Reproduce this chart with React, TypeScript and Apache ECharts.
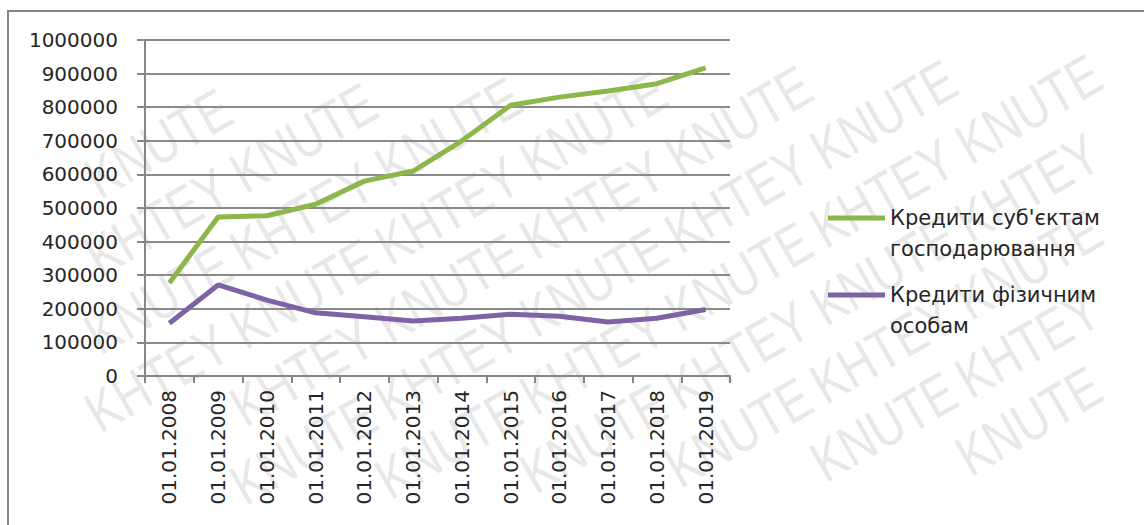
import React, { useEffect, useRef } from "react";
import * as echarts from "echarts";

const categories = [
  "01.01.2008", "01.01.2009", "01.01.2010", "01.01.2011", "01.01.2012", "01.01.2013",
  "01.01.2014", "01.01.2015", "01.01.2016", "01.01.2017", "01.01.2018", "01.01.2019",
];
const businessLoans = [277000, 473000, 477000, 511000, 580000, 610000, 700000, 806000, 830000, 848000, 870000, 917000];
const householdLoans = [157000, 271000, 226000, 188000, 176000, 164000, 172000, 184000, 178000, 161000, 172000, 198000];
const seriesNames = ["Кредити суб'єктам господарювання", "Кредити фізичним особам"];
const legendLabels = ["Кредити суб'єктам\nгосподарювання", "Кредити фізичним\nособам"];
const watermarkWords = ["KHTEY", "KNUTE"];

const FONT = "DejaVu Sans";
const W = 1144;
const H = 525;

function buildWatermark() {
  const out: any[] = [];
  const angle = (30 * Math.PI) / 180;
  const c = Math.cos(angle);
  const s = Math.sin(angle);
  const fs = 58;
  const sx = 0.8;
  const wlen = 3.4 * fs * sx;
  const step = 3.33 * fs * sx + 0.28 * fs * sx;
  const half = fs * 0.6;
  for (let r = 0; r < 24; r++) {
    const x0 = -200;
    const y0 = -40 + r * 78;
    for (let k = 0; k < 12; k++) {
      const x = x0 + k * step * c;
      const y = y0 - k * step * s;
      const corners = [
        [0, -half],
        [wlen, -half],
        [0, half],
        [wlen, half],
      ].map(([lx, ly]) => [x + lx * c + ly * s, y - lx * s + ly * c]);
      const inside = corners.every(([px, py]) => px >= 3 && px <= W - 3 && py >= 3 && py <= H - 3);
      if (!inside) continue;
      out.push({
        type: "text",
        x,
        y,
        rotation: angle,
        scaleX: sx,
        silent: true,
        z: -10,
        style: {
          text: watermarkWords[(k + r) % 2],
          font: `${fs}px "Liberation Sans"`,
          fill: "#e8e8e8",
          textVerticalAlign: "middle",
        },
      });
    }
  }
  return out;
}

export default function App() {
  const ref = useRef<HTMLDivElement>(null);
  useEffect(() => {
    document.body.style.margin = "0";
    const chart = echarts.init(ref.current!, null, { renderer: "svg" });
    const L = 31;
    const legendText = {
      fontFamily: FONT,
      fontSize: 21,
      color: "#262626",
      lineHeight: L,
    };
    const legendBase = {
      orient: "vertical",
      left: 828,
      icon: "rect",
      itemWidth: 57,
      itemHeight: 5,
      itemGap: 0,
      padding: 0,
      textStyle: legendText,
    };
    chart.setOption({
      animation: false,
      backgroundColor: "#fff",
      graphic: [
        ...buildWatermark(),
        {
          type: "rect",
          silent: true,
          z: 100,
          shape: { x: 8, y: 11, width: 1150, height: 530 },
          style: { fill: "none", stroke: "#858585", lineWidth: 2 },
        },
      ],
      grid: { left: 145, right: 414, top: 40, bottom: 149, containLabel: false },
      legend: [
        { ...legendBase, data: [seriesNames[0]], top: 218 - 1.5 * L, formatter: () => "\n" + legendLabels[0] },
        { ...legendBase, data: [seriesNames[1]], top: 295 - 1.5 * L, formatter: () => "\n" + legendLabels[1] },
      ],
      xAxis: {
        type: "category",
        data: categories,
        boundaryGap: true,
        axisLine: { lineStyle: { color: "#868686", width: 2 } },
        axisTick: { show: true, length: 7, alignWithLabel: false, lineStyle: { color: "#868686", width: 2 } },
        axisLabel: {
          rotate: 90,
          interval: 0,
          margin: 14,
          fontFamily: FONT,
          fontSize: 20,
          color: "#262626",
        },
      },
      yAxis: {
        type: "value",
        min: 0,
        max: 1000000,
        interval: 100000,
        axisLine: { show: true, lineStyle: { color: "#868686", width: 2 } },
        axisTick: { show: true, length: 8, lineStyle: { color: "#868686", width: 2 } },
        axisLabel: {
          margin: 27,
          fontFamily: FONT,
          fontSize: 20,
          color: "#262626",
          formatter: (v: number) => String(v),
        },
        splitLine: { show: true, lineStyle: { color: "#8a8a8a", width: 2 } },
      },
      series: [
        {
          name: seriesNames[0],
          type: "line",
          data: businessLoans,
          symbol: "none",
          lineStyle: { color: "#8db64b", width: 5 },
          itemStyle: { color: "#8db64b" },
        },
        {
          name: seriesNames[1],
          type: "line",
          data: householdLoans,
          symbol: "none",
          lineStyle: { color: "#7f62a6", width: 5 },
          itemStyle: { color: "#7f62a6" },
        },
      ],
    });
    return () => chart.dispose();
  }, []);
  return <div ref={ref} style={{ width: W, height: H }} />;
}
